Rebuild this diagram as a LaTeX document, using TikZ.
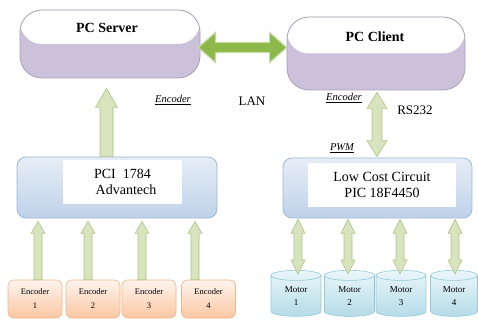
\documentclass[tikz,border=0pt]{standalone}
\usepackage{fontspec}
\setmainfont{Liberation Serif}
\usetikzlibrary{shapes.geometric,calc}
\definecolor{lav}{HTML}{CCC1DA}
\definecolor{lavborder}{HTML}{A8A0B8}
\definecolor{arrfill}{HTML}{D7E4BD}
\definecolor{arrdraw}{HTML}{AFC587}
\definecolor{lanfill}{HTML}{8DB84A}
\definecolor{landraw}{HTML}{C6D9A0}
\definecolor{boxtop}{HTML}{E6EDF6}
\definecolor{boxbot}{HTML}{BFD2EA}
\definecolor{boxdraw}{HTML}{9FB8D8}
\definecolor{enctop}{HTML}{FEF4EE}
\definecolor{encbot}{HTML}{FAC7A2}
\definecolor{encdraw}{HTML}{F2B48A}
\definecolor{mottop}{HTML}{EAF6FA}
\definecolor{motbot}{HTML}{B5DCE8}
\definecolor{motdraw}{HTML}{92CADB}
\newcommand\myuparr[6][]{\draw[fatarrow,#1] let \p1=(#2), \p2=(#3) in
  (\x1-#4,\y1) -- (\x1-#4,\y2-#6) -- (\x1-#5,\y2-#6) -- (\x1,\y2) --
  (\x1+#5,\y2-#6) -- (\x1+#4,\y2-#6) -- (\x1+#4,\y1) -- cycle;}
\newcommand\myvdarr[6][]{\draw[fatarrow,#1] let \p1=(#2), \p2=(#3) in
  (\x1,\y1) -- (\x1+#5,\y1-#6) -- (\x1+#4,\y1-#6) -- (\x1+#4,\y2+#6) --
  (\x1+#5,\y2+#6) -- (\x1,\y2) -- (\x1-#5,\y2+#6) -- (\x1-#4,\y2+#6) --
  (\x1-#4,\y1-#6) -- (\x1-#5,\y1-#6) -- cycle;}
\newcommand\myhdarr[6][]{\draw[fatarrow,#1] let \p1=(#2), \p2=(#3) in
  (\x1,\y1) -- (\x1+#6,\y1+#5) -- (\x1+#6,\y1+#4) -- (\x2-#6,\y1+#4) --
  (\x2-#6,\y1+#5) -- (\x2,\y1) -- (\x2-#6,\y1-#5) -- (\x2-#6,\y1-#4) --
  (\x1+#6,\y1-#4) -- (\x1+#6,\y1-#5) -- cycle;}
\begin{document}
\begin{tikzpicture}[x=1pt,y=-1pt,
  fatarrow/.style={fill=arrfill,draw=arrdraw,line width=0.6pt,line join=miter},
  pcbox/.style={draw=lavborder,line width=0.8pt,fill=lav,rounded corners=22pt,
    path picture={\fill[white] (path picture bounding box.north west) rectangle (path picture bounding box.east);}},
  hwbox/.style={draw=boxdraw,line width=0.8pt,top color=boxtop,bottom color=boxbot,rounded corners=9pt},
  inner/.style={fill=white,inner sep=0pt,align=center,font=\fontsize{14}{15.5}\selectfont},
  encbox/.style={draw=encdraw,line width=0.6pt,top color=enctop,bottom color=encbot,rounded corners=6pt,
    minimum width=54pt,minimum height=38pt,inner sep=0pt,align=center,font=\fontsize{8.5}{14}\selectfont},
  motor/.style={cylinder,shape border rotate=90,aspect=0.45,draw=motdraw,line width=0.6pt,
    top color=mottop,bottom color=motbot,minimum width=50pt,minimum height=46pt,inner sep=0pt,
    align=center,font=\fontsize{9}{13}\selectfont},
  title/.style={font=\bfseries\fontsize{14}{16}\selectfont},
  lbl/.style={font=\fontsize{13}{15}\selectfont,inner sep=0pt},
  ilbl/.style={font=\itshape\fontsize{10.5}{12}\selectfont,inner sep=0pt}]
\useasboundingbox (0,0) rectangle (478,320);
\fill[white] (0,0) rectangle (478,320);

% PC boxes
\node[pcbox,minimum width=180pt,minimum height=68pt] (srv) at (110,44) {};
\node[title] (srvt) at (107,28) {PC Server};
\node[pcbox,minimum width=178pt,minimum height=73pt] (cli) at (376,53.5) {};
\node[title] (clit) at (375,37) {PC Client};

% hardware boxes
\node[hwbox,minimum width=200pt,minimum height=61pt] (pci) at (117,187.5) {};
\node[inner,minimum width=119pt,minimum height=44pt] (pciw) at (122.5,182) {PCI\ \ 1784\\\ \ Advantech};
\node[hwbox,minimum width=189pt,minimum height=60pt] (circ) at (377.5,188) {};
\node[inner,minimum width=148pt,minimum height=44pt] (circw) at (382,185) {Low Cost Circuit\\PIC 18F4450};

% encoders
\node[encbox] (enc1) at (35,299) {Encoder\\1};
\node[encbox] (enc2) at (93,299) {Encoder\\2};
\node[encbox] (enc3) at (149,299) {Encoder\\3};
\node[encbox] (enc4) at (208.5,299) {Encoder\\4};

% motors
\node[motor] (mot1) at (296,296) {Motor\\1};
\node[motor] (mot2) at (349.5,296) {Motor\\2};
\node[motor] (mot3) at (401,296) {Motor\\3};
\node[motor,minimum width=47pt] (mot4) at (454,296) {Motor\\4};

% arrows
\myhdarr[fill=lanfill,draw=landraw,line width=1.2pt]{$(srv.east)+(-2,3.5)$}{cli.west}{5pt}{15pt}{17pt}
\myuparr{$(pci.north)+(-10.5,0)$}{$(srv.south)+(0,10)$}{6.5pt}{11pt}{19pt}
\myvdarr{$(cli.south)+(1,2)$}{$(circ.north)+(0,-1)$}{5pt}{10pt}{16pt}
\myuparr{$(enc1.north)+(3,0)$}{$(pci.south)+(0,3)$}{4pt}{7pt}{12pt}
\myuparr{$(enc2.north)+(-5,0)$}{$(pci.south)+(0,3)$}{4pt}{7pt}{12pt}
\myuparr{$(enc3.north)+(-7,0)$}{$(pci.south)+(0,3)$}{4pt}{7pt}{12pt}
\myuparr{$(enc4.north)+(-13.5,0)$}{$(pci.south)+(0,3)$}{4pt}{7pt}{12pt}
\myvdarr{$(circ.south -| mot1.north)+(2,1)$}{$(mot1.north)+(2,4)$}{4pt}{7pt}{14pt}
\myvdarr{$(circ.south -| mot2.north)+(-1.5,1)$}{$(mot2.north)+(-1.5,4)$}{4pt}{7pt}{14pt}
\myvdarr{$(circ.south -| mot3.north)+(-1,1)$}{$(mot3.north)+(-1,4)$}{4pt}{7pt}{14pt}
\myvdarr{$(circ.south -| mot4.north)+(1,1)$}{$(mot4.north)+(1,4)$}{4pt}{7pt}{14pt}

% labels
\node[ilbl] (le1) at (173,100) {\underline{Encoder}};
\node[lbl] (lan) at (252,101) {LAN};
\node[ilbl] (le2) at (344,98) {\underline{Encoder}};
\node[lbl] (rs) at (415,110) {RS232};
\node[ilbl] (pwm) at (342,148) {\underline{PWM}};
\end{tikzpicture}
\end{document}
